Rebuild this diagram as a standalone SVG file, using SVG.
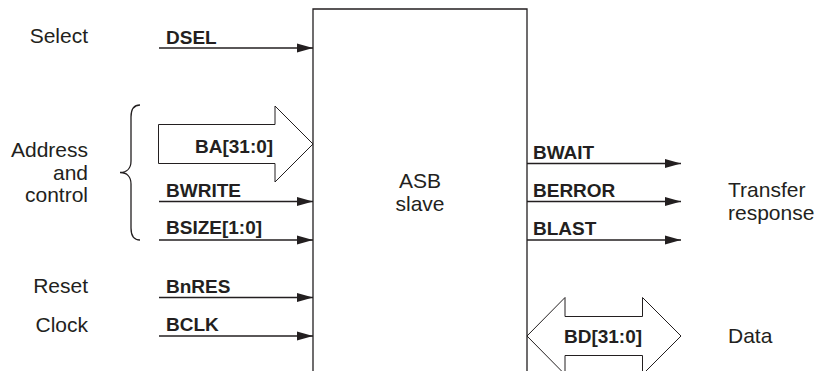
<svg xmlns="http://www.w3.org/2000/svg" width="819" height="371" viewBox="0 0 819 371">
<style>
.lbl{font-family:"Liberation Sans",Arial,sans-serif;font-size:21px;fill:#231f20}
.sig{font-family:"Liberation Sans",Arial,sans-serif;font-size:19px;font-weight:bold;fill:#231f20}
.ln{stroke:#231f20;stroke-width:1.3;fill:none}
.bus{stroke:#231f20;stroke-width:1;fill:#fff}
</style>
<defs>
<marker id="ah" markerWidth="16" markerHeight="10" refX="16" refY="5" orient="auto" markerUnits="userSpaceOnUse">
<path d="M0,0.5 L16,5 L0,9.5 Z" fill="#231f20"/>
</marker>
</defs>
<rect width="819" height="371" fill="#fff"/>

<g id="asb-slave">
<path class="ln" d="M313,380 L313,9 L527,9 L527,380"/>
<text class="lbl" x="420" y="188" text-anchor="middle">ASB</text>
<text class="lbl" x="420" y="211" text-anchor="middle">slave</text>
</g>

<g id="labels-left">
<text class="lbl" x="88" y="43" text-anchor="end">Select</text>
<text class="lbl" x="88" y="157" text-anchor="end">Address</text>
<text class="lbl" x="88" y="179.5" text-anchor="end">and</text>
<text class="lbl" x="88" y="202" text-anchor="end">control</text>
<text class="lbl" x="88" y="293" text-anchor="end">Reset</text>
<text class="lbl" x="88" y="331.5" text-anchor="end">Clock</text>
<path id="brace" class="ln" stroke-width="1.1" d="M140,105 C134,105 131,109 131,117 L131,161 C131,168 127,172.5 120,172.5 C127,172.5 131,177 131,184 L131,228 C131,236 134,240 140,240"/>
</g>

<g id="labels-right">
<text class="lbl" x="728" y="197">Transfer</text>
<text class="lbl" x="728" y="219.5">response</text>
<text class="lbl" x="728" y="343">Data</text>
</g>

<g id="connectors">
<line class="ln" x1="159" y1="48" x2="313" y2="48" marker-end="url(#ah)"/>
<line class="ln" x1="159" y1="201.5" x2="313" y2="201.5" marker-end="url(#ah)"/>
<line class="ln" x1="159" y1="240" x2="313" y2="240" stroke-width="3" marker-end="url(#ah)"/>
<line class="ln" x1="159" y1="297.5" x2="313" y2="297.5" marker-end="url(#ah)"/>
<line class="ln" x1="159" y1="336" x2="313" y2="336" marker-end="url(#ah)"/>
<line class="ln" x1="527" y1="163.5" x2="681" y2="163.5" marker-end="url(#ah)"/>
<line class="ln" x1="527" y1="201.5" x2="681" y2="201.5" marker-end="url(#ah)"/>
<line class="ln" x1="527" y1="240" x2="681" y2="240" marker-end="url(#ah)"/>
<path id="ba-bus" class="bus" d="M158.5,124.5 L275,124.5 L275,106 L313,144 L275,182 L275,163.5 L158.5,163.5 Z"/>
<path id="bd-bus" class="bus" d="M527,336 L565,297.5 L565,316.5 L642.5,316.5 L642.5,297.5 L681,336 L642.5,374.5 L642.5,355.5 L565,355.5 L565,374.5 Z"/>
</g>

<g id="signal-labels">
<text class="sig" x="166" y="44">DSEL</text>
<text class="sig" x="195" y="152.5">BA[31:0]</text>
<text class="sig" x="166" y="196.5">BWRITE</text>
<text class="sig" x="166" y="234">BSIZE[1:0]</text>
<text class="sig" x="166" y="292.5">BnRES</text>
<text class="sig" x="166" y="331">BCLK</text>
<text class="sig" x="533" y="158.5">BWAIT</text>
<text class="sig" x="533" y="196.5">BERROR</text>
<text class="sig" x="533" y="235">BLAST</text>
<text class="sig" x="603" y="342.5" text-anchor="middle">BD[31:0]</text>
</g>
</svg>
